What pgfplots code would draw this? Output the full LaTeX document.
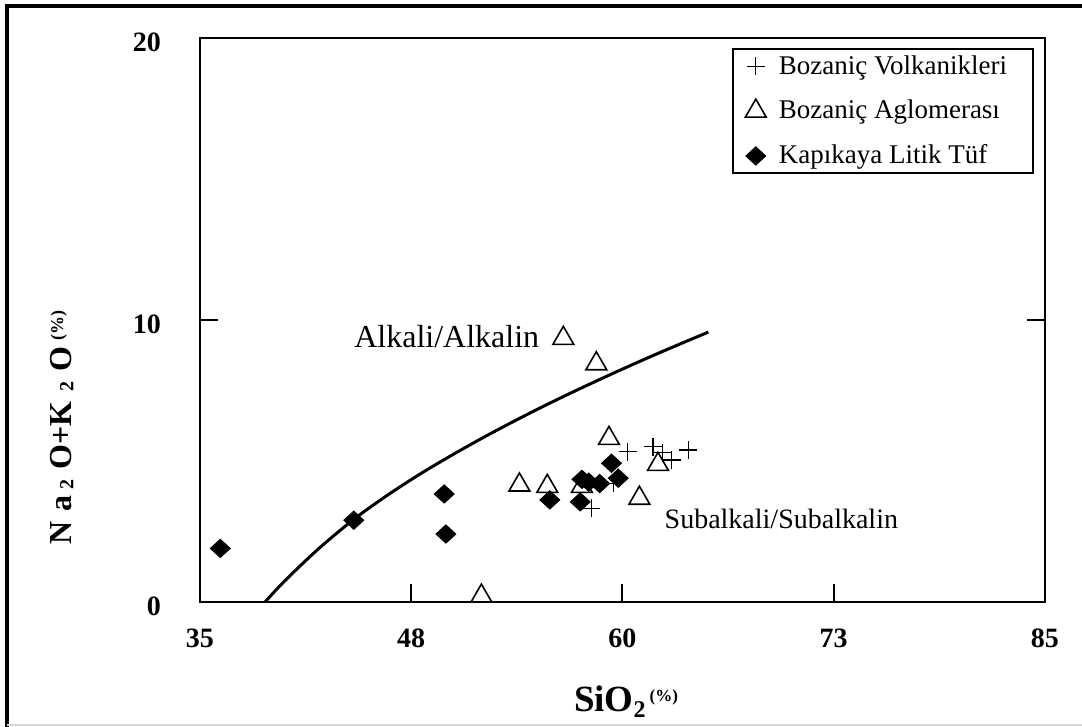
\documentclass[border=0pt]{standalone}
\usepackage{fontspec}
\setmainfont{Liberation Serif}
\usepackage{pgfplots}
\pgfplotsset{compat=1.18}

\begin{document}
\begin{tikzpicture}
\useasboundingbox (-100pt,-62.5pt) rectangle (441pt,301pt);
\begin{axis}[
    scale only axis,
    width=422.5pt,
    height=282pt,
    xmin=35, xmax=85,
    ymin=0, ymax=20,
    xtick={35,47.5,60,72.5,85},
    xticklabels={35,48,60,73,85},
    ytick={0,10,20},
    yticklabels={0,10,20},
    xtick pos=left,
    ytick pos=both,
    tick align=inside,
    major tick length=9pt,
    every tick/.style={black, line width=1pt},
    axis line style={line width=1.25pt},
    /pgf/number format/assume math mode=true,
    ticklabel style={font=\bfseries\fontsize{14}{16}\selectfont},
    xticklabel style={anchor=base, yshift=-23pt},
    yticklabel style={anchor=base east, xshift=-16pt, yshift=-6.8pt},
    clip=false,
    legend style={
        at={(1,1)}, xshift=-5.5pt, yshift=-5.25pt, anchor=north east,
        draw=black, line width=1pt,
        font=\fontsize{13.5}{15}\selectfont,
        inner xsep=5.8pt, inner ysep=1pt, row sep=7.5pt,
        cells={anchor=west, inner xsep=0pt},
    },
    legend image code/.code={
        \path[draw=none] (-5.5pt,0pt) (9.5pt,0pt);
        \draw[#1] plot coordinates {(0pt,0pt)};
    },
]

% dividing line between the alkaline and subalkaline fields
\addplot[black, line width=1.5pt, smooth, forget plot] coordinates {
    (38.85,0) (40,0.74) (42,1.88) (44.1,2.93) (46,3.75) (48,4.53)
    (50,5.24) (52,5.91) (54,6.54) (56,7.14) (58,7.71) (60,8.26)
    (62,8.79) (64,9.30) (65.08,9.57)
};

\addplot[only marks, mark=+, mark size=4.5pt, black,
    mark options={line width=0.7pt}] coordinates {
    (60.3,5.33) (61.8,5.51) (62.35,5.3) (62.9,5.04) (63.9,5.39)
    (59.45,4.21) (58.15,3.32)
};
\addlegendentry{Bozaniç Volkanikleri\hspace*{5.2pt}}

\addplot[only marks, mark=triangle, mark size=6pt, black,
    mark options={line width=0.8pt}] coordinates {
    (56.5,9.35) (58.45,8.45) (59.2,5.8) (53.9,4.15) (55.55,4.1)
    (61.0,3.68) (62.1,4.88) (51.65,0.21) (57.6,4.1)
};
\addlegendentry{Bozaniç Aglomerası}

\addplot[only marks, mark=diamond*, mark size=4.6pt, black,
    mark options={xscale=1.45, fill=black, line width=0.4pt}] coordinates {
    (36.2,1.9) (44.1,2.9) (49.45,3.83) (49.55,2.41) (55.7,3.62)
    (57.5,3.55) (57.6,4.35) (58.0,4.25) (58.65,4.2) (59.35,4.92)
    (59.75,4.39)
};
\addlegendentry{Kapıkaya Litik Tüf}

\node[font=\fontsize{16}{18}\selectfont] at (axis cs:49.6,9.4) {Alkali/Alkalin};
\node[font=\fontsize{14}{16}\selectfont] at (axis cs:69.4,2.94) {Subalkali/Subalkalin};
\end{axis}

% axis titles
\node[rotate=90, anchor=base, font=\bfseries\fontsize{16}{16}\selectfont]
    at (-64pt,87pt)
    {N\hspace{5pt}a\hspace{3pt}\raisebox{-0.1ex}{\fontsize{10}{10}\selectfont 2}\hspace{5pt}O+K\hspace{5pt}\raisebox{-0.1ex}{\fontsize{10}{10}\selectfont 2}\hspace{5pt}O\hspace{3pt}\raisebox{0.6ex}{\fontsize{9}{9}\selectfont(\%)}};
\node[anchor=base, font=\bfseries\fontsize{18.5}{20}\selectfont] at (213pt,-55pt)
    {SiO\raisebox{-0.3ex}{\fontsize{12}{12}\selectfont 2}\hspace{2pt}\raisebox{0.6ex}{\fontsize{8.5}{8.5}\selectfont(\%)}};

% outer frame
\draw[line width=2pt] (-96.5pt,-62.5pt) -- (-96.5pt,298pt) -- (441pt,298pt);
\draw[black!15, line width=0.6pt] (-96.5pt,-61.5pt) -- (441pt,-61.5pt);
\end{tikzpicture}
\end{document}
